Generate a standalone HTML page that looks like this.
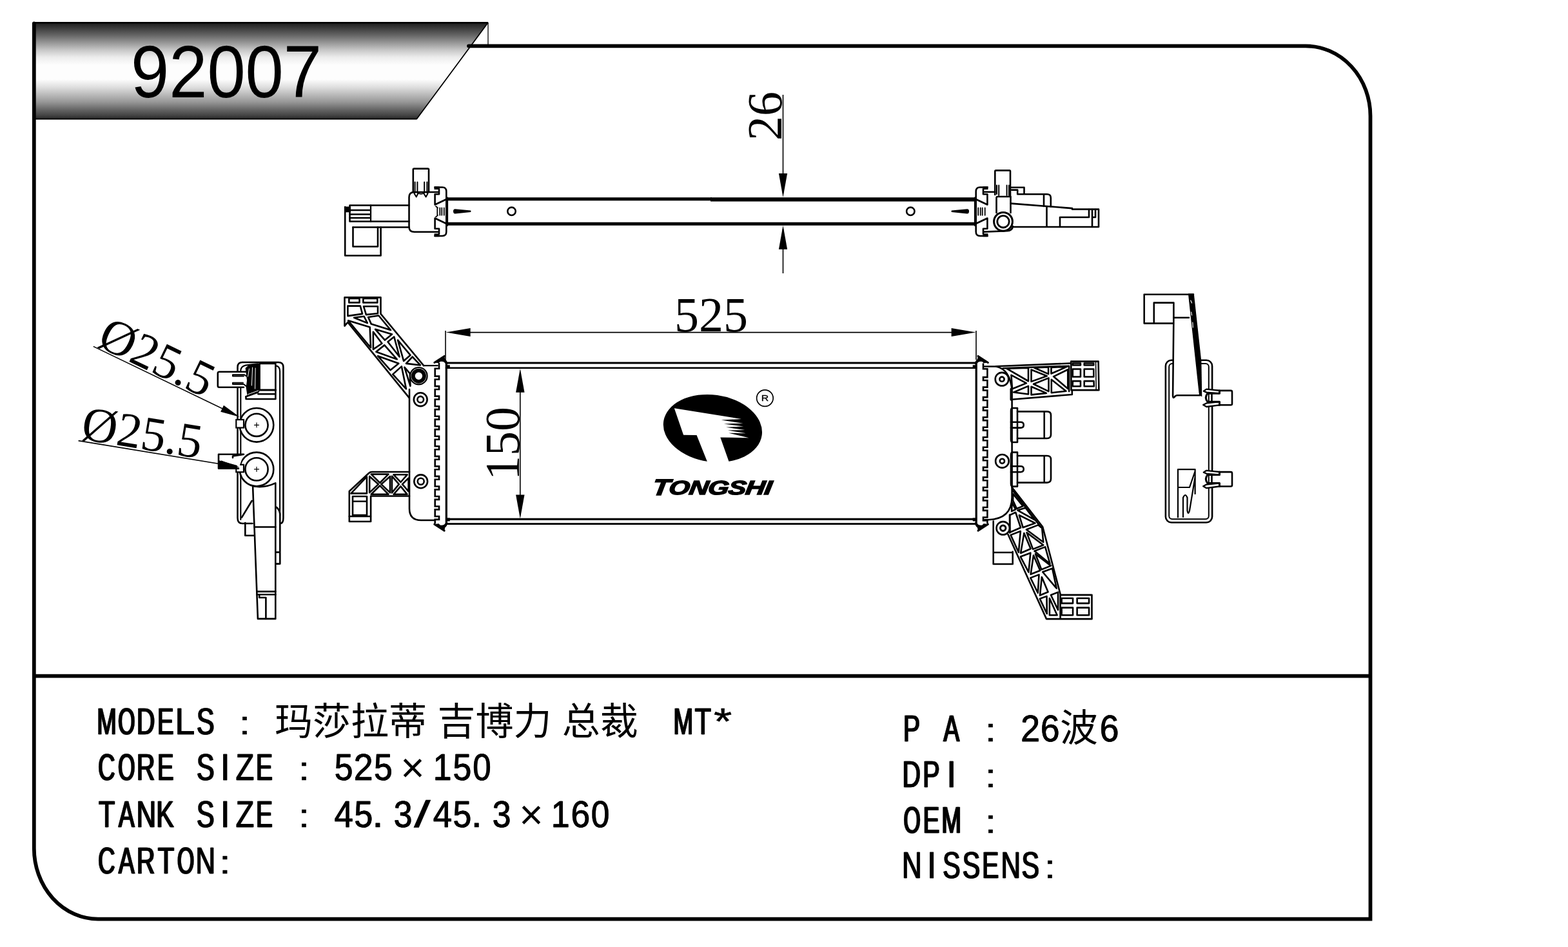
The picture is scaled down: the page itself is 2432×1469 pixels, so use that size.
<!DOCTYPE html>
<html lang="zh"><head><meta charset="utf-8"><title>92007</title>
<style>
html,body{margin:0;padding:0;background:#fff;}
body{width:2432px;height:1469px;overflow:hidden;}
svg{display:block;position:absolute;left:0;top:0;}
text{font-family:"Liberation Sans",sans-serif;fill:#000;}
.serif text,.serif{font-family:"Liberation Serif",serif;}
.ln{fill:none;stroke:#000;stroke-width:2.6;stroke-linejoin:round;stroke-linecap:round;}
.thin{fill:none;stroke:#000;stroke-width:1.6;}
.blk{fill:#000;stroke:none;}
.wht{fill:#fff;}
</style></head><body>
<svg width="2432" height="1469" viewBox="0 0 2432 1469">
<defs>
<linearGradient id="bg" x1="0" y1="0" x2="0" y2="1">
<stop offset="0" stop-color="#1a1a1a"/><stop offset="0.13" stop-color="#636363"/><stop offset="0.21" stop-color="#969696"/><stop offset="0.285" stop-color="#c6c6c6"/><stop offset="0.36" stop-color="#ececec"/>
<stop offset="0.44" stop-color="#fdfdfd"/><stop offset="0.59" stop-color="#fdfdfd"/><stop offset="0.67" stop-color="#dedede"/><stop offset="0.745" stop-color="#bbbbbb"/><stop offset="0.82" stop-color="#989898"/><stop offset="0.90" stop-color="#666666"/><stop offset="0.96" stop-color="#444444"/><stop offset="1" stop-color="#262626"/>
</linearGradient>
</defs>
<rect width="2432" height="1469" fill="#fff"/>

<g id="banner">
<path d="M52,34.5 H757 L646,185 H52 Z" fill="url(#bg)"/>
<path d="M52,35.2 H757" fill="none" stroke="#000" stroke-width="2.4"/>
<path d="M757,35 L646,185 M52,184.6 H646" fill="none" stroke="#000" stroke-width="1.8"/>
<path d="M757,35 V71" class="thin" style="stroke-width:1.3"/>
<text x="203" y="151" font-size="115" fill="#000" textLength="296" lengthAdjust="spacingAndGlyphs">92007</text>
</g>
<g id="frame" fill="none" stroke="#000">
<path d="M727,71.3 H2025 A100.5,108.7 0 0 1 2125.5,180 V1425.6 H152 A99.3,109.6 0 0 1 52.8,1316 V36.5" stroke-width="5.8" stroke-linecap="round"/>
<path d="M52,1048.7 H2125" stroke-width="5.8"/>
</g>
<g id="info" font-size="58" opacity="0.999" stroke="#000" stroke-width="0.55" stroke-linejoin="round">
<text id="c1" transform="translate(149.46,1139.1) scale(0.63,1)">M</text><use href="#c1" x="1.81"/><text id="c2" transform="translate(182.14,1139.1) scale(0.58,1)">O</text><use href="#c2" x="2.05"/><text id="c3" transform="translate(211.1,1139.1) scale(0.68,1)">D</text><use href="#c3" x="1.54"/><text id="c4" transform="translate(242.99,1139.1) scale(0.67,1)">E</text><use href="#c4" x="1.58"/><text id="c5" transform="translate(270.97,1139.1) scale(0.97,1)">L</text><use href="#c5" x="0.19"/><text id="c6" transform="translate(304.35,1139.1) scale(0.71,1)">S</text><use href="#c6" x="1.42"/><text id="c7" transform="translate(370.3,1139.1) scale(1.14,0.86)">:</text>
<text id="c8" transform="translate(151.25,1210) scale(0.63,1)">C</text><use href="#c8" x="1.79"/><text id="c9" transform="translate(182.14,1210) scale(0.58,1)">O</text><use href="#c9" x="2.05"/><text id="c10" transform="translate(211.11,1210) scale(0.68,1)">R</text><use href="#c10" x="1.55"/><text id="c11" transform="translate(242.99,1210) scale(0.67,1)">E</text><use href="#c11" x="1.58"/><text id="c12" transform="translate(304.35,1210) scale(0.71,1)">S</text><use href="#c12" x="1.42"/><text id="c13" transform="translate(341.37,1210) scale(0.98,1)">I</text><use href="#c13" x="0.08"/><text id="c14" transform="translate(365.33,1210) scale(0.8,1)">Z</text><use href="#c14" x="1"/><text id="c15" transform="translate(396.09,1210) scale(0.67,1)">E</text><use href="#c15" x="1.58"/><text id="c16" transform="translate(462.16,1210) scale(1.14,0.86)">:</text><text id="c17" transform="translate(518.49,1210) scale(0.89,1)">5</text><use href="#c17" x="0.56"/><text id="c18" transform="translate(548.45,1210) scale(0.93,1)">2</text><use href="#c18" x="0.36"/><text id="c19" transform="translate(579.73,1210) scale(0.89,1)">5</text><use href="#c19" x="0.56"/>
<text id="c73" transform="translate(671.5,1210) scale(0.89,1)">1</text><use href="#c73" x="0.56"/><text id="c20" transform="translate(702.21,1210) scale(0.89,1)">5</text><use href="#c20" x="0.56"/><text id="c21" transform="translate(732.9,1210) scale(0.88,1)">0</text><use href="#c21" x="0.6"/>
<text id="c22" transform="translate(152.17,1282.6) scale(0.72,1)">T</text><use href="#c22" x="1.35"/><text id="c23" transform="translate(183.01,1282.6) scale(0.64,1)">A</text><use href="#c23" x="1.77"/><text id="c24" transform="translate(210.87,1282.6) scale(0.73,1)">N</text><use href="#c24" x="1.3"/><text id="c25" transform="translate(241.6,1282.6) scale(0.71,1)">K</text><use href="#c25" x="1.41"/><text id="c26" transform="translate(304.35,1282.6) scale(0.71,1)">S</text><use href="#c26" x="1.42"/><text id="c27" transform="translate(341.37,1282.6) scale(0.98,1)">I</text><use href="#c27" x="0.08"/><text id="c28" transform="translate(365.33,1282.6) scale(0.8,1)">Z</text><use href="#c28" x="1"/><text id="c29" transform="translate(396.09,1282.6) scale(0.67,1)">E</text><use href="#c29" x="1.58"/><text id="c30" transform="translate(462.16,1282.6) scale(1.14,0.86)">:</text><text id="c31" transform="translate(518.34,1282.6) scale(0.91,1)">4</text><use href="#c31" x="0.48"/><text id="c32" transform="translate(549.11,1282.6) scale(0.89,1)">5</text><use href="#c32" x="0.56"/><text id="c33" transform="translate(576.84,1282.6) scale(1.14,1)">.</text><text id="c34" transform="translate(610.45,1282.6) scale(0.89,1)">3</text><use href="#c34" x="0.56"/><text id="c74" transform="translate(642,1282.6) scale(1.6,1)">/</text><text id="c35" transform="translate(671.44,1282.6) scale(0.91,1)">4</text><use href="#c35" x="0.48"/><text id="c36" transform="translate(702.21,1282.6) scale(0.89,1)">5</text><use href="#c36" x="0.56"/><text id="c37" transform="translate(729.94,1282.6) scale(1.14,1)">.</text><text id="c38" transform="translate(763.55,1282.6) scale(0.89,1)">3</text><use href="#c38" x="0.56"/>
<text id="c75" transform="translate(854.6,1282.6) scale(0.89,1)">1</text><use href="#c75" x="0.56"/><text id="c39" transform="translate(885.29,1282.6) scale(0.92,1)">6</text><use href="#c39" x="0.43"/><text id="c40" transform="translate(916.62,1282.6) scale(0.88,1)">0</text><use href="#c40" x="0.6"/>
<text id="c41" transform="translate(151.25,1354.6) scale(0.63,1)">C</text><use href="#c41" x="1.79"/><text id="c42" transform="translate(183.01,1354.6) scale(0.64,1)">A</text><use href="#c42" x="1.77"/><text id="c43" transform="translate(211.11,1354.6) scale(0.68,1)">R</text><use href="#c43" x="1.55"/><text id="c44" transform="translate(244.03,1354.6) scale(0.72,1)">T</text><use href="#c44" x="1.35"/><text id="c45" transform="translate(274,1354.6) scale(0.58,1)">O</text><use href="#c45" x="2.05"/><text id="c46" transform="translate(302.73,1354.6) scale(0.73,1)">N</text><use href="#c46" x="1.3"/><text id="c47" transform="translate(339.68,1354.6) scale(1.14,0.86)">:</text>
<text id="c48" transform="translate(1043.66,1139.1) scale(0.63,1)">M</text><use href="#c48" x="1.81"/><text id="c49" transform="translate(1076.99,1139.1) scale(0.72,1)">T</text><use href="#c49" x="1.35"/><text id="c50" transform="translate(1106.88,1139.1) scale(1.25,1)">*</text>
<text id="c51" transform="translate(1399.96,1149.6) scale(0.68,1)">P</text><use href="#c51" x="1.51"/><text id="c52" transform="translate(1462.53,1149.6) scale(0.64,1)">A</text><use href="#c52" x="1.77"/><text id="c53" transform="translate(1527.34,1149.6) scale(1.14,0.86)">:</text><text id="c54" transform="translate(1583.01,1149.6) scale(0.93,1)">2</text><use href="#c54" x="0.36"/><text id="c55" transform="translate(1613.65,1149.6) scale(0.92,1)">6</text><use href="#c55" x="0.43"/>
<text id="c56" transform="translate(1705.51,1149.6) scale(0.92,1)">6</text><use href="#c56" x="0.43"/>
<text id="c57" transform="translate(1398.76,1220.9) scale(0.68,1)">D</text><use href="#c57" x="1.54"/><text id="c58" transform="translate(1430.58,1220.9) scale(0.68,1)">P</text><use href="#c58" x="1.51"/><text id="c59" transform="translate(1467.79,1220.9) scale(0.98,1)">I</text><use href="#c59" x="0.08"/><text id="c60" transform="translate(1527.34,1220.9) scale(1.14,0.86)">:</text>
<text id="c61" transform="translate(1400.42,1291.6) scale(0.58,1)">O</text><use href="#c61" x="2.05"/><text id="c62" transform="translate(1430.65,1291.6) scale(0.67,1)">E</text><use href="#c62" x="1.58"/><text id="c63" transform="translate(1459.6,1291.6) scale(0.63,1)">M</text><use href="#c63" x="1.81"/><text id="c64" transform="translate(1527.34,1291.6) scale(1.14,0.86)">:</text>
<text id="c65" transform="translate(1398.53,1362.1) scale(0.73,1)">N</text><use href="#c65" x="1.3"/><text id="c66" transform="translate(1437.17,1362.1) scale(0.98,1)">I</text><use href="#c66" x="0.08"/><text id="c67" transform="translate(1461.39,1362.1) scale(0.71,1)">S</text><use href="#c67" x="1.42"/><text id="c68" transform="translate(1492.01,1362.1) scale(0.71,1)">S</text><use href="#c68" x="1.42"/><text id="c69" transform="translate(1522.51,1362.1) scale(0.67,1)">E</text><use href="#c69" x="1.58"/><text id="c70" transform="translate(1551.63,1362.1) scale(0.73,1)">N</text><use href="#c70" x="1.3"/><text id="c71" transform="translate(1583.87,1362.1) scale(0.71,1)">S</text><use href="#c71" x="1.42"/><text id="c72" transform="translate(1619.2,1362.1) scale(1.14,0.86)">:</text>
</g>
<text x="640" y="1213" font-size="64" text-anchor="middle">×</text>
<text x="824" y="1286" font-size="64" text-anchor="middle">×</text>
<text x="426" y="1140" font-size="59" stroke="none" style="font-family:'Liberation Sans','Noto Sans CJK SC',sans-serif">玛莎拉蒂 吉博力 总裁</text><text x="1644" y="1150" font-size="59" stroke="none" style="font-family:'Liberation Sans','Noto Sans CJK SC',sans-serif">波</text>
<g id="topview">
<path class="ln" style="stroke-width:5;stroke-linecap:butt" d="M693,308.7 H1104"/>
<path class="ln" style="stroke-width:6.2;stroke-linecap:butt" d="M1102,309.3 H1513"/>
<path class="ln" style="stroke-width:5;stroke-linecap:butt" d="M693,347.3 H1513"/>
<path class="ln" style="stroke-width:3.6" d="M693.3,307 V349.5"/>
<path class="ln" style="stroke-width:3.6" d="M1512.7,307 V349.5"/>
<path class="blk" d="M703,327.8 Q703,324 706,324.2 L730,326.6 Q731.2,327.8 730,329 L706,331.4 Q703,331.6 703,327.8Z"/>
<path class="blk" d="M1503,327.8 Q1503,324 1500,324.2 L1476,326.6 Q1474.8,327.8 1476,329 L1500,331.4 Q1503,331.6 1503,327.8Z"/>
<circle cx="793.5" cy="327.8" r="6.2" fill="none" stroke="#000" stroke-width="2.6"/>
<circle cx="1412.3" cy="327.8" r="6.2" fill="none" stroke="#000" stroke-width="2.6"/>
<path class="ln"  d="M674.5,290.5 H686 Q692.3,290.5 692.3,297 V359.5 Q692.3,366 686,366 H674.5"/>
<path class="blk" d="M673.5,289.3 H681.5 V294 H673.5Z M673.5,362.3 H681.5 V367.2 H673.5Z"/>
<path class="ln"  d="M681,293 V301.3 H674.6 V317.5 L692.5,309 M681,363 V354.7 H674.6 V338.5 L692.5,347"/>
<path class="ln" style="stroke-width:1.8" d="M678.3,322.5 V333.8 M682.3,322.5 V333.8 M685.3,322.5 V333.8 M688.8,322.5 V333.8 M676,320 L679,322.5 M676,336.5 L679,333.8"/>
<path class="ln"  d="M680,298 H642.5 Q634.5,298 634.5,306 V351.8 Q634.5,359.8 642.5,359.8 H679.5"/>
<path class="ln"  d="M640.8,298 V263 Q640.8,261.6 642.2,261.6 H663.6 Q665,261.6 665,263 V298"/>
<path class="ln" style="stroke-width:2" d="M643.6,282.5 V299 L642.4,300 L645.8,305.4 L648.4,300 L647.4,299 V282.5 M658.2,282.5 V299 L657.2,300 L660.6,305.4 L663.6,300 L662.4,299 V282.5"/>
<path class="ln" style="stroke-width:2" d="M648,299 Q653,302.5 658,299"/>
<path class="ln"  d="M634.5,318.5 H542.5 V343.5 H634.5"/>
<path class="ln" style="stroke-width:2.3" d="M575,318.5 V343.5 M542.5,326 H575 M542.5,332.5 H575 M542.5,338 H575"/>
<rect class="blk" x="534" y="320.5" width="10" height="8.8"/>
<path class="ln"  d="M535.2,321 V396.5 H590.6 V352.5"/>
<path class="ln"  d="M547.5,352.5 H634.5"/>
<path class="ln"  d="M547.5,352.5 V382.5 H586 V352.5"/>
<path class="ln"  d="M1531.5,290.5 H1520 Q1513.7,290.5 1513.7,297 V359.5 Q1513.7,366 1520,366 H1531.5"/>
<path class="blk" d="M1532.5,289.3 H1524.5 V294 H1532.5Z M1532.5,362.3 H1524.5 V367.2 H1532.5Z"/>
<path class="ln"  d="M1525,293 V301.3 H1531.4 V317.5 L1513.5,309 M1525,363 V354.7 H1531.4 V338.5 L1513.5,347"/>
<path class="ln" style="stroke-width:1.8" d="M1527.7,322.5 V333.8 M1523.7,322.5 V333.8 M1520.7,322.5 V333.8 M1517.2,322.5 V333.8"/>
<path class="ln"  d="M1526,297.8 H1543.5 M1526,359.6 L1562,358.2 Q1570,358 1571,351"/>
<path class="ln"  d="M1543.3,302 V265.8 Q1543.3,264.4 1544.7,264.4 H1565.6 Q1567,264.4 1567,265.8 V305"/>
<path class="ln" style="stroke-width:2" d="M1546,287.5 V301 M1549.2,287.5 V303 M1561.6,287.5 V303 M1565,287.5 V303"/>
<path class="ln"  d="M1545.5,330 V307 Q1545.5,305 1547.5,305 H1567.5 V330"/>
<circle cx="1556" cy="343.8" r="14.4" fill="#fff" stroke="#000" stroke-width="3"/>
<circle cx="1556" cy="343.8" r="9.2" fill="none" stroke="#000" stroke-width="2.8"/>
<path class="ln"  d="M1567.5,290.8 H1588.5 V301.3 M1569,294.6 H1578.2 V301.3 H1624 Q1629.8,301.3 1629.8,307 V320.5 M1619,301.3 V320"/>
<path class="ln"  d="M1568,315.6 L1662.9,323.1 V324.6 H1704 V352 H1571.5 M1623.5,320.5 V352"/>
<path class="ln"  d="M1644,352 V337 H1689 V325 M1694,325 V352 M1694,337 H1699 V325"/>
</g>
<g id="dim26">
<path class="thin"  d="M1214.5,147 V300"/>
<path class="blk" d="M1214.5,306 L1207.9,269 L1221.1,269Z"/>
<path class="thin"  d="M1214.5,355 V424"/>
<path class="blk" d="M1214.5,349.8 L1221.1,386.8 L1207.9,386.8Z"/>
<g transform="translate(1211.9,0) rotate(-90)" aria-label="26"><text class="serif" x="-218" y="0" font-size="76">26</text></g>
</g>
<g id="front">
<path class="ln" style="stroke-width:3.2;stroke-linecap:butt" d="M692.3,562 V813 M1514.2,562 V813"/>
<path class="ln" style="stroke-width:3.2;stroke-linecap:butt" d="M692,563 H1514"/>
<path class="ln"  d="M692,570.8 H1514"/>
<path class="blk" d="M693,566.2 H697.8 V572 H693Z M1513.5,566.2 H1508.7 V572 H1513.5Z M693,808.6 H697.8 V803.5 H693Z M1513.5,808.6 H1508.7 V803.5 H1513.5Z"/>
<path class="ln" style="stroke-width:3.2;stroke-linecap:butt" d="M692,805.3 H1514"/>
<path class="ln"  d="M692,812.6 H1514"/>
<path class="thin"  d="M691,513 V560 M1514,513 V558"/>
<path class="thin"  d="M725,515.6 H1480"/>
<path class="blk" d="M691.6,515.6 L729.6,509.1 L729.6,522.1Z"/>
<path class="blk" d="M1513.6,515.6 L1475.6,522.1 L1475.6,509.1Z"/>
<g aria-label="525"><text class="serif" x="1046" y="514" font-size="76">525</text></g>
<path class="thin"  d="M806.8,600 V775"/>
<path class="blk" d="M806.8,571.8 L813.5,608.8 L800.1,608.8Z"/>
<path class="blk" d="M806.8,804.6 L800.1,767.6 L813.5,767.6Z"/>
<g transform="translate(805,0) rotate(-90)" aria-label="150"><text class="serif" x="-745" y="0" font-size="76">150</text></g>
<path class="ln" style="stroke-width:2.6;stroke-linejoin:miter;stroke-linecap:butt" d="M681,563 V571.7 H674.7 V583.6 H681 V588.5 H674.7 V599.13 H681 V604.03 H674.7 V614.66 H681 V619.56 H674.7 V630.19 H681 V635.09 H674.7 V645.72 H681 V650.62 H674.7 V661.25 H681 V666.15 H674.7 V676.78 H681 V681.68 H674.7 V692.31 H681 V697.21 H674.7 V707.84 H681 V712.74 H674.7 V723.37 H681 V728.27 H674.7 V738.9 H681 V743.8 H674.7 V754.43 H681 V759.33 H674.7 V769.96 H681 V774.86 H674.7 V785.49 H681 V790.39 H674.7 V801.02 H681 V805.92 H674.7 V812"/>
<path class="ln" style="stroke-width:2.6;stroke-linejoin:miter;stroke-linecap:butt" d="M1525,563.5 V572.2 H1531.4 V585.1 H1525 V590 H1531.4 V600.63 H1525 V605.53 H1531.4 V616.16 H1525 V621.06 H1531.4 V631.69 H1525 V636.59 H1531.4 V647.22 H1525 V652.12 H1531.4 V662.75 H1525 V667.65 H1531.4 V678.28 H1525 V683.18 H1531.4 V693.81 H1525 V698.71 H1531.4 V709.34 H1525 V714.24 H1531.4 V724.87 H1525 V729.77 H1531.4 V740.4 H1525 V745.3 H1531.4 V755.93 H1525 V760.83 H1531.4 V771.46 H1525 V776.36 H1531.4 V786.99 H1525 V791.89 H1531.4 V802.52 H1525 V807.42 H1531.4 V812"/>
<path class="blk" transform="translate(674.6,563) scale(1,1)" d="M-1.2,-0.5 L14.5,-11.8 L15.6,-6 Q19.3,-3.5 19.8,2 L16.8,2 Q14.5,-3.2 8,-2 L6,0.3Z"/>
<path class="ln" style="stroke-width:3" transform="translate(674.6,563) scale(1,1)" d="M-0.8,-0.6 L14.6,-10.6"/>
<path class="blk" transform="translate(674.6,812.6) scale(1,-1)" d="M-1.2,-0.5 L14.5,-11.8 L15.6,-6 Q19.3,-3.5 19.8,2 L16.8,2 Q14.5,-3.2 8,-2 L6,0.3Z"/>
<path class="ln" style="stroke-width:3" transform="translate(674.6,812.6) scale(1,-1)" d="M-0.8,-0.6 L14.6,-10.6"/>
<path class="blk" transform="translate(1531.6,563) scale(-1,1)" d="M-1.2,-0.5 L14.5,-11.8 L15.6,-6 Q19.3,-3.5 19.8,2 L16.8,2 Q14.5,-3.2 8,-2 L6,0.3Z"/>
<path class="ln" style="stroke-width:3" transform="translate(1531.6,563) scale(-1,1)" d="M-0.8,-0.6 L14.6,-10.6"/>
<path class="blk" transform="translate(1531.6,812.6) scale(-1,-1)" d="M-1.2,-0.5 L14.5,-11.8 L15.6,-6 Q19.3,-3.5 19.8,2 L16.8,2 Q14.5,-3.2 8,-2 L6,0.3Z"/>
<path class="ln" style="stroke-width:3" transform="translate(1531.6,812.6) scale(-1,-1)" d="M-0.8,-0.6 L14.6,-10.6"/>
<path class="ln"  d="M635,604 V789 Q635,807 653,807 H675"/>
<path class="ln" style="stroke-width:2.3" d="M657,567.2 H678.6"/>
<circle cx="649.4" cy="583.2" r="13.2" fill="none" stroke="#000" stroke-width="2.2"/>
<circle cx="649.4" cy="583.2" r="8.6" fill="none" stroke="#000" stroke-width="5.8"/>
<circle cx="652.2" cy="619.7" r="10.4" fill="none" stroke="#000" stroke-width="2.6"/>
<circle cx="652.2" cy="619.7" r="4.8" fill="none" stroke="#000" stroke-width="2.6"/>
<circle cx="652.7" cy="746.8" r="10.4" fill="none" stroke="#000" stroke-width="2.6"/>
<circle cx="652.7" cy="746.8" r="5" fill="none" stroke="#000" stroke-width="2.6"/>
<path class="ln"  d="M634.49,616.88 L539.4,499.81 L534.49,505.63 L534.49,461.38 L590.5,461.38 L590.5,486.87 L657.13,567.08"/>
<path class="ln" style="stroke-width:2.6" d="M541.35,462.94 L557.52,462.94 L557.52,469.4 L541.35,469.4Z"/>
<path class="ln" style="stroke-width:2.6" d="M563.34,462.94 L585.33,462.94 L585.33,469.4 L563.34,469.4Z"/>
<path class="ln" style="stroke-width:2.6" d="M539.4,474.58 L558.81,474.58 L562.04,486.87 L539.4,490.1Z"/>
<path class="ln" style="stroke-width:2.6" d="M563.98,475.23 L585.98,475.23 L585.98,486.22 L567.87,488.16Z"/>
<path class="ln" style="stroke-width:2.6" d="M549.11,492.69 L564.63,490.75 L569.81,501.1Z"/>
<path class="ln" style="stroke-width:2.6" d="M571.1,492.04 L587.27,489.46 L606.03,512.1 L575.63,502.39Z"/>
<path class="ln" style="stroke-width:2.6" d="M540.05,497.22 L573.69,507.57 L574.98,539.26Z"/>
<path class="ln" style="stroke-width:2.6" d="M578.86,514.68 L592.45,532.79 L578.86,541.85Z"/>
<path class="ln" style="stroke-width:2.6" d="M582.1,510.8 L607.97,518.56 L596.97,527.62Z"/>
<path class="ln" style="stroke-width:2.6" d="M601.5,530.21 L611.2,522.45 L619.61,553.49Z"/>
<path class="ln" style="stroke-width:2.6" d="M583.39,545.73 L596.33,535.38 L615.73,557.37Z"/>
<path class="ln" style="stroke-width:2.6" d="M617.02,527.62 L636.43,550.91 L626.08,559.96Z"/>
<path class="ln" style="stroke-width:2.6" d="M585.98,552.2 L618.32,563.84 L605.38,574.19Z"/>
<path class="ln" style="stroke-width:2.6" d="M609.26,580.66 L622.85,568.37 L629.96,603.3Z"/>
<path class="ln" style="stroke-width:2.6" d="M639.66,553.49 L651.95,566.43 L629.96,563.84Z"/>
<path class="ln" style="stroke-width:2.6" d="M627.37,569.66 L636.43,598.77 L635.78,579.37Z"/>
<path class="ln"  d="M635,732 H577 Q574,732 572,734 L541.8,762 V809 H575.1 V769.5 H635"/>
<path class="ln" style="stroke-width:2.6" d="M547,770 H569 V799 H547 Z M547,777.7 H569 M541.8,801 H575"/>
<path class="ln" style="stroke-width:2.6" d="M544.48,765.39 L568.93,739.45 L568.93,765.39Z"/>
<path class="ln" style="stroke-width:2.6" d="M575.73,735.59 L602.44,735.59 L589.17,749.03Z"/>
<path class="ln" style="stroke-width:2.6" d="M575.73,766.75 L602.44,766.75 L589.17,753.32Z"/>
<path class="ln" style="stroke-width:2.6" d="M573.18,738.94 L573.18,764.14 L586.92,751.16Z"/>
<path class="ln" style="stroke-width:2.6" d="M605.01,738.94 L605.01,764.14 L591.27,751.16Z"/>
<path class="ln" style="stroke-width:2.6" d="M610.52,736.28 L631.59,736.28 L621.45,747.98Z"/>
<path class="ln" style="stroke-width:2.6" d="M610.58,766.75 L631.54,766.75 L621.45,754.32Z"/>
<path class="ln" style="stroke-width:2.6" d="M607.9,738.68 L607.9,764.42 L618.81,751.16Z"/>
<path class="ln" style="stroke-width:2.6" d="M633.6,741.55 L633.6,762.32 L624.02,751.14Z"/>
<path class="ln"  d="M1527,568.5 H1545 Q1567,573 1569.6,606 V772 Q1569,805 1533,806.2 H1527"/>
<circle cx="1554" cy="588.2" r="10.3" fill="none" stroke="#000" stroke-width="2.6"/>
<circle cx="1554" cy="588.2" r="3.6" fill="none" stroke="#000" stroke-width="2.6"/>
<circle cx="1554.4" cy="715.3" r="10.3" fill="none" stroke="#000" stroke-width="2.6"/>
<circle cx="1554.4" cy="715.3" r="3.6" fill="none" stroke="#000" stroke-width="2.6"/>
<path class="ln"  d="M1578,633 H1571 Q1568,633 1568,637 V682 Q1568,686 1571,686 H1578 Z"/>
<path class="ln"  d="M1578,638.4 H1624 Q1630,638.4 1630,644 V674 Q1630,680 1624,680 H1578 M1619.7,638.4 V680"/>
<path class="ln"  d="M1568,654.7 H1583 Q1587.7,654.7 1587.7,659.2 Q1587.7,663.6 1583,663.6 H1568"/>
<path class="ln"  d="M1578,701.6 H1571 Q1568,701.6 1568,705.6 V750.6 Q1568,754.6 1571,754.6 H1578 Z"/>
<path class="ln"  d="M1578,707 H1624 Q1630,707 1630,712.6 V742.6 Q1630,748.6 1624,748.6 H1578 M1619.7,707 V748.6"/>
<path class="ln"  d="M1568,723.3 H1583 Q1587.7,723.3 1587.7,727.8 Q1587.7,732.2 1583,732.2 H1568"/>
<path class="ln"  d="M1544.84,568.28 L1660.31,563.52"/>
<path class="ln" style="stroke-width:2.6" d="M1555.78,571.25 L1658.12,567.73 L1658.12,607.11"/>
<path class="ln"  d="M1568.44,603.2 L1568.44,619.77 L1662.81,611.95 L1662.81,605.16"/>
<path class="ln" style="stroke-width:3.6" d="M1568.3,603.5 V620"/>
<path class="ln"  d="M1661.25,560.62 L1703.59,560.62 L1704.38,605.16 L1661.48,605.16 L1661.25,560.62"/>
<path class="ln" style="stroke-width:1.6" d="M1699.53,561.8 L1700.16,603.98"/>
<path class="ln" style="stroke-width:2.6" d="M1663.75,563.44 L1675.94,563.44 L1675.94,566.56 L1663.75,566.56Z"/>
<path class="ln" style="stroke-width:2.6" d="M1681.72,563.44 L1696.25,563.44 L1696.25,566.56 L1681.72,566.56Z"/>
<path class="ln" style="stroke-width:2.6" d="M1663.75,572.5 L1675.94,572.5 L1675.94,584.45 L1663.75,584.45Z"/>
<path class="ln" style="stroke-width:2.6" d="M1681.72,572.5 L1696.25,572.5 L1696.41,584.45 L1681.72,584.45Z"/>
<path class="ln" style="stroke-width:2.6" d="M1663.75,591.09 L1675.94,591.09 L1675.94,599.3 L1663.75,599.3Z"/>
<path class="ln" style="stroke-width:2.6" d="M1681.72,591.09 L1696.56,591.09 L1696.8,599.3 L1681.72,599.3Z"/>
<path class="ln" style="stroke-width:2.6" d="M1561.25,571.72 L1595,570.62 L1595,591.25Z"/>
<path class="ln" style="stroke-width:2.6" d="M1568.44,581.88 L1591.88,594.38 L1570,603.2Z"/>
<path class="ln" style="stroke-width:2.6" d="M1572.19,608.44 L1595,598.91 L1595,611.56Z"/>
<path class="ln" style="stroke-width:2.6" d="M1604.22,570.47 L1626.09,569.45 L1626.09,580.16Z"/>
<path class="ln" style="stroke-width:2.6" d="M1599.53,573.52 L1623.75,583.28 L1599.53,591.88Z"/>
<path class="ln" style="stroke-width:2.6" d="M1626.48,586.41 L1626.48,607.11 L1603.05,595.78Z"/>
<path class="ln" style="stroke-width:2.6" d="M1599.53,599.69 L1622.97,609.84 L1599.53,612.34Z"/>
<path class="ln" style="stroke-width:2.6" d="M1630.47,570 L1655,568.91 L1630.47,579.53Z"/>
<path class="ln" style="stroke-width:2.6" d="M1656.25,573.28 L1656.25,602.97 L1634.06,584.06Z"/>
<path class="ln" style="stroke-width:2.6" d="M1630.78,588.75 L1653.44,606.72 L1630.78,609.22Z"/>
<path class="ln"  d="M1569.63,756.15 L1617.2,817.32 L1644.57,921.52"/>
<path class="ln" style="stroke-width:2.6" d="M1570.81,760.98 L1614.27,817.61"/>
<path class="ln"  d="M1563.49,829.03 L1623.05,960.16 L1693.45,960.16 L1693.45,922.84 L1644.57,922.84 L1644.57,960.16"/>
<path class="ln"  d="M1566.12,798.59 L1566.12,826.39"/>
<path class="ln"  d="M1570.7,855.7 V875 H1540.7 V808.6 M1540.7,857 H1570.7"/>
<circle cx="1555.7" cy="819.3" r="10.2" fill="#fff" stroke="#000" stroke-width="2.6"/>
<circle cx="1555.7" cy="819.3" r="4.2" fill="none" stroke="#000" stroke-width="3"/>
<path class="ln" style="stroke-width:2.6" d="M1646.61,927.96 L1664.03,927.96 L1664.03,935.86 L1646.61,935.86Z"/>
<path class="ln" style="stroke-width:2.6" d="M1670.62,927.96 L1689.06,927.96 L1689.06,935.86 L1670.62,935.86Z"/>
<path class="ln" style="stroke-width:2.6" d="M1646.61,942.59 L1664.03,942.59 L1664.03,954.3 L1646.61,954.3Z"/>
<path class="ln" style="stroke-width:2.6" d="M1670.62,942.59 L1689.06,942.59 L1689.06,954.3 L1670.62,954.3Z"/>
<path class="ln" style="stroke-width:2.6" d="M1571.39,766.1 L1586.61,785.12 L1576.95,788.93 L1571.1,776.34Z"/>
<path class="ln" style="stroke-width:2.6" d="M1569.63,779.27 L1575.2,790.39 L1569.05,793.03Z"/>
<path class="ln" style="stroke-width:2.6" d="M1566.12,799.17 L1575.2,794.78 L1583.1,818.49 L1566.42,825.81Z"/>
<path class="ln" style="stroke-width:2.6" d="M1578.42,791.56 L1590.56,787.76 L1604.76,806.49Z"/>
<path class="ln" style="stroke-width:2.6" d="M1580.76,799.17 L1605.49,811.47 L1586.61,818.2Z"/>
<path class="ln" style="stroke-width:2.6" d="M1591.88,821.42 L1610.32,814.39 L1616.17,819.08 L1618.22,841.03Z"/>
<path class="ln" style="stroke-width:2.6" d="M1567.59,829.91 L1582.81,824.05 L1579.88,856.83Z"/>
<path class="ln" style="stroke-width:2.6" d="M1588.37,826.98 L1598.61,851.27 L1583.1,858.01Z"/>
<path class="ln" style="stroke-width:2.6" d="M1592.47,826.1 L1618.22,845.42 L1602.12,851.86Z"/>
<path class="ln" style="stroke-width:2.6" d="M1604.47,854.79 L1621.15,848.35 L1628.47,874.4Z"/>
<path class="ln" style="stroke-width:2.6" d="M1582.81,863.57 L1598.32,857.71 L1595.39,887.57Z"/>
<path class="ln" style="stroke-width:2.6" d="M1603,861.52 L1613.25,884.93 L1598.61,890.79Z"/>
<path class="ln" style="stroke-width:2.6" d="M1605.93,859.18 L1629.93,877.62 L1615.3,883.47Z"/>
<path class="ln" style="stroke-width:2.6" d="M1617.2,887.27 L1632.13,881.71 L1638.71,912.74Z"/>
<path class="ln" style="stroke-width:2.6" d="M1598.32,896.35 L1611.49,891.37 L1609.73,919.76Z"/>
<path class="ln" style="stroke-width:2.6" d="M1615.88,895.18 L1625.54,918.3 L1612.95,923.57Z"/>
<path class="ln" style="stroke-width:2.6" d="M1612.81,928.84 L1623.49,924.89 L1623.78,951.96Z"/>
<path class="ln" style="stroke-width:2.6" d="M1627.88,927.96 L1639.59,954.3 L1627.88,954.3Z"/>
<path class="ln" style="stroke-width:2.6" d="M1629.93,922.98 L1641.05,918.59 L1641.05,946.11Z"/>
</g>
<g id="leftview">
<path class="ln" style="fill:#fff" d="M392.1,754.1 Q409,757.8 427.3,749.4 V959.9 H399.9 Z"/>
<path class="ln"  d="M427.3,786 Q433.2,789 434.3,797 V874.6 H427.3 M427.3,856.6 H434.3 M394.7,817.5 H427.3 M398.3,917.6 H427.3 M398.5,922.3 H427.3 M402.2,922.3 V927 H412.4 V959.9"/>
<path class="ln"  d="M380.3,811 V830.8 H394.8 M390.7,776.8 L375,802.6"/>
<path class="ln"  d="M376,562 H431.9 Q439.4,562 439.4,569.5 V803.5 Q439.4,812 434.5,812 M391.5,812 H376 Q368.5,812 368.5,803.5 V569.5 Q368.5,562 376,562"/>
<path class="ln" style="stroke-width:2.1" d="M373.3,806 V601 M373.3,576.5 V574.5 Q374,568 381,566.6 L400,564.2 M428,567.4 Q434.1,568.5 434.1,576 V800"/>
<path class="ln" style="fill:#fff" d="M381,576.7 H340 Q337.8,576.7 337.8,579 V598.6 Q337.8,600.8 340,600.8 H378"/>
<path class="ln" style="stroke-width:2" d="M361,581.2 H379 L382,583.5 M361,596 H378 L382.5,599.5 M361,581.2 V583.6 H378 M361,596 V593.8 H377"/>
<path class="ln"  d="M402.6,563.9 H427.4 V619 H381.6 L381.3,615.2 L400.2,608.6 M402.6,563.9 V604.5 M400.4,611.3 H427.4"/>
<path class="ln" style="stroke-width:3.2" d="M402.6,605 H427.4"/>
<path class="blk" d="M380.6,571 L385,567 L402.2,563.8 V607.8 L383.6,614 L381.6,601 L383,590 Z"/>
<path class="ln" style="stroke:#fff;stroke-width:1" d="M386.5,572 L384.5,584 M391.6,570 L390.4,598 M396.2,571 L395.6,603 M384.5,611.8 L400.5,606"/>
<circle cx="398" cy="659.3" r="26.3" fill="#fff" stroke="#000" stroke-width="2.6"/>
<circle cx="398" cy="659.3" r="17.6" fill="none" stroke="#000" stroke-width="2.6"/>
<path class="ln" style="stroke-width:1.2" d="M394.5,659.3 H401.5 M398,655.8 V662.8"/>
<circle cx="398" cy="727.9" r="26.3" fill="#fff" stroke="#000" stroke-width="2.6"/>
<circle cx="398" cy="727.9" r="17.6" fill="none" stroke="#000" stroke-width="2.6"/>
<path class="ln" style="stroke-width:1.2" d="M394.5,727.9 H401.5 M398,724.4 V731.4"/>
<rect x="366.3" y="651" width="11.7" height="12.5" fill="#fff" stroke="#000" stroke-width="2.2"/>
<rect x="366.3" y="720.8" width="11.7" height="11.5" fill="#fff" stroke="#000" stroke-width="2.2"/>
<path class="ln" style="fill:#fff" d="M378,704.7 H339 V726.8 H370"/>
<path class="ln"  d="M361,707.5 L377,705 M361,707.5 V710"/>
<path class="blk" d="M339,714 L368,722 L368,727.5 H339 Z"/>
<path class="thin"  d="M144.8,537.4 L366,644"/>
<path class="thin"  d="M121.6,683.6 L366,723.8"/>
<path class="blk" d="M371.6,646.7 L342.14,638.72 L347.01,628.63Z"/>
<path class="blk" d="M371.6,724.7 L341.09,725.36 L342.91,714.31Z"/>
<g transform="translate(144.8,537.4) rotate(25.73)" aria-label="Ø25.5">
<text class="serif" x="2.3" y="-3" font-size="76">Ø25.5</text>
</g>
<g transform="translate(121.6,683.6) rotate(9.34)" aria-label="Ø25.5">
<text class="serif" x="2" y="-3" font-size="76">Ø25.5</text>
</g>
</g>
<g id="rightview">
<rect x="1807.9" y="558.7" width="72.2" height="251.8" rx="9" class="ln"/>
<rect x="1813.2" y="564" width="61.6" height="241.2" rx="5" class="ln" style="stroke-width:2"/>
<path fill="#fff" d="M1820.4,492.7 L1819.1,616 L1824.5,613.3 H1862 L1845,456.6 Z"/>
<path class="ln"  d="M1819.6,501.6 H1774.7 V456.8 H1851 M1789.8,501.6 V469.6 H1820.4 V492.7 H1844"/>
<path class="ln"  d="M1820.4,492.7 L1819.1,614 Q1819.3,618.5 1821.5,616 Q1823,613.4 1826,613.2 H1861"/>
<path class="blk" d="M1842.9,455.5 H1851.8 L1863.4,560.8 L1864.3,615.5 L1859.9,612.6 Z"/>
<path class="ln" style="stroke:#fff;stroke-width:1.2" d="M1846.8,466 L1848.5,470 M1847.6,484 L1848.6,489 M1849.8,500 L1850.3,508"/>
<g transform="translate(0,0)">
<path d="M1879.5,605.9 H1909 Q1911,605.9 1911,608 V626.3 Q1911,628.3 1909,628.3 H1879.5 Z" fill="#fff" stroke="#000" stroke-width="2.6"/>
<path class="ln" style="fill:#fff;stroke-width:2.3" d="M1891.2,605.9 L1871.3,603.6 L1866.8,606.6 L1871.3,608.6 L1890.5,610.3 M1891.2,628.3 L1871.3,631 L1866.2,628 L1871.3,625.4 L1890.5,623.3"/>
<path class="ln" style="stroke-width:3" d="M1891.5,605.9 V610.3 H1873 Q1867.6,617 1873,623.3 H1891.5 V628.3"/>
</g>
<g transform="translate(0,126.2)">
<path d="M1879.5,605.9 H1909 Q1911,605.9 1911,608 V626.3 Q1911,628.3 1909,628.3 H1879.5 Z" fill="#fff" stroke="#000" stroke-width="2.6"/>
<path class="ln" style="fill:#fff;stroke-width:2.3" d="M1891.2,605.9 L1871.3,603.6 L1866.8,606.6 L1871.3,608.6 L1890.5,610.3 M1891.2,628.3 L1871.3,631 L1866.2,628 L1871.3,625.4 L1890.5,623.3"/>
<path class="ln" style="stroke-width:3" d="M1891.5,605.9 V610.3 H1873 Q1867.6,617 1873,623.3 H1891.5 V628.3"/>
</g>
<path class="ln" style="stroke-width:2.2" d="M1827,802.5 V728.2 H1853.6 V766 M1827,756 H1845 M1845,756 L1853.6,731 M1835,802 V772 Q1838.5,764 1841.5,772 V792 Q1843,800 1845,792 L1853.6,740"/>
</g>
<g id="logo" opacity="0.999">
<ellipse cx="1105.4" cy="664.5" rx="77" ry="52" transform="rotate(8 1105.4 664.5)" fill="#000"/>
<path fill="#fff" d="M1045.81,633.29 L1149.95,649.9 L1118.64,651.53 L1152.67,656.7 L1122.73,657.38 L1153.35,661.47 L1126.13,662.83 L1155.4,666.91 L1128.85,667.59 L1157.44,672.36 L1130.21,671.68 L1161.52,679.16 L1117.28,678.48 L1132.93,722.73 L1099.58,722.73 L1080.53,675.08 L1060.11,674.67Z"/>
<circle cx="1186.4" cy="617.6" r="12.8" fill="none" stroke="#000" stroke-width="1.7"/>
<text transform="translate(1186.5,622.3) scale(1.2,1)" text-anchor="middle" font-size="13.2" stroke="#000" stroke-width="0.35">R</text>
<filter id="nf" x="-5%" y="-20%" width="110%" height="140%"><feOffset dx="0" dy="0"/></filter>
<g filter="url(#nf)" font-weight="bold" font-style="italic" stroke="#000" stroke-width="1.5" stroke-linejoin="miter" aria-label="TONGSHI">
<text transform="translate(1010.4,768.1) skewX(-8) scale(1.25,1)" font-size="35.3">T</text>
<text transform="translate(1036.3,766.5) skewX(-8) scale(1.357,1)" font-size="30.6" letter-spacing="-0.6">ONGSHI</text>
</g>
</g>
</svg>
</body></html>
